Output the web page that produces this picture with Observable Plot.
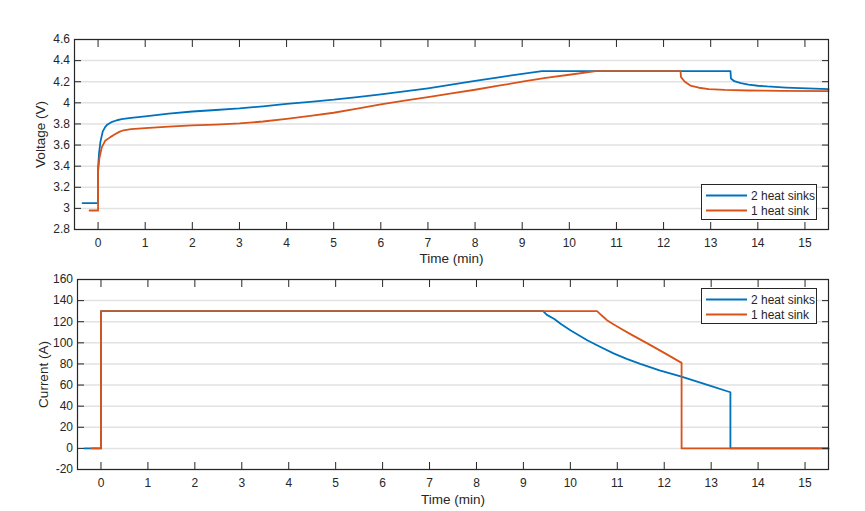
<!DOCTYPE html>
<html>
<head>
<meta charset="utf-8">
<script src="https://cdn.jsdelivr.net/npm/d3@7"></script>
<script src="https://cdn.jsdelivr.net/npm/@observablehq/plot@0.6"></script>
<style>
  html, body { margin: 0; padding: 0; background: #fff; overflow: hidden; }
  #wrap { position: relative; width: 865px; height: 511px; }
  #wrap svg { display: block; }
  .legend { position: absolute; background: #fff; border: 1px solid #262626; box-sizing: border-box; }
</style>
</head>
<body>
<div id="wrap"></div>
<script>
// ---- Series names / colours ----
const seriesNames = ["2 heat sinks", "1 heat sink"];
const seriesColors = ["#0072BD", "#D95319"];

// ---- Axis ticks ----
const timeTicks = [0,1,2,3,4,5,6,7,8,9,10,11,12,13,14,15];
const voltTicks = [2.8,3,3.2,3.4,3.6,3.8,4,4.2,4.4,4.6];
const voltTickLabels = ["2.8","3","3.2","3.4","3.6","3.8","4","4.2","4.4","4.6"];
const currTicks = [-20,0,20,40,60,80,100,120,140,160];
const currTickLabels = ["-20","0","20","40","60","80","100","120","140","160"];

// ---- Voltage, 2 heat sinks ----
const voltTime2 = [-0.33,0,0,0.02,0.05,0.1,0.15,0.2,0.3,0.4,0.5,0.7,1,1.5,2,2.5,3,3.5,4,4.5,5,5.5,6,6.5,7,7.5,8,8.5,9,9.42,13.42,13.43,13.5,13.64,13.8,14.0,14.2,14.6,14.9,15.2,15.5];
const voltVal2  = [3.05,3.05,3.38,3.52,3.63,3.73,3.77,3.795,3.82,3.835,3.845,3.858,3.872,3.897,3.918,3.932,3.947,3.967,3.99,4.01,4.03,4.055,4.08,4.108,4.138,4.172,4.207,4.242,4.275,4.3,4.3,4.23,4.205,4.186,4.172,4.162,4.155,4.145,4.14,4.135,4.13];

// ---- Voltage, 1 heat sink ----
const voltTime1 = [-0.18,0,0,0.03,0.08,0.15,0.26,0.35,0.45,0.54,0.7,1,1.5,2,2.5,3,3.5,4,4.5,5,5.5,6,6.5,7,7.5,8,8.5,9,9.5,10,10.56,12.36,12.37,12.45,12.57,12.75,12.96,13.3,13.8,14.5,15.5];
const voltVal1  = [2.98,2.98,3.35,3.48,3.58,3.64,3.675,3.70,3.725,3.74,3.75,3.76,3.775,3.786,3.794,3.805,3.823,3.848,3.876,3.906,3.945,3.985,4.02,4.054,4.089,4.124,4.162,4.20,4.236,4.266,4.3,4.3,4.243,4.2,4.164,4.143,4.13,4.122,4.117,4.113,4.11];

// ---- Current, 2 heat sinks ----
const currTime2 = [-0.35,0,0,9.42,9.5,9.65,9.8,10.0,10.36,10.6,10.92,11.2,11.49,11.9,12.35,12.92,13.41,13.41,15.5];
const currVal2  = [0,0,130,130,126.5,122.8,117.8,112,102.5,97,90,84.8,80.1,74,68.2,60.2,53.2,0,0];

// ---- Current, 1 heat sink ----
const currTime1 = [-0.2,0,0,10.57,10.63,10.7,10.78,10.9,11.07,11.3,11.64,12.0,12.37,12.37,15.5];
const currVal1  = [0,0,130,130,127.5,124.7,121.5,118,113.6,107.8,99.5,90.5,81,0,0];

function rows(times, vals, series) {
  return times.map((t, i) => ({t, v: vals[i], series}));
}
const voltData = [...rows(voltTime2, voltVal2, seriesNames[0]), ...rows(voltTime1, voltVal1, seriesNames[1])];
const currData = [...rows(currTime2, currVal2, seriesNames[0]), ...rows(currTime1, currVal1, seriesNames[1])];

const ink = "#262626";
const font = "'Liberation Sans', Arial, Helvetica, sans-serif";
const style = {fontFamily: font, fontSize: "12px", color: ink, background: "#fff", overflow: "visible"};

function panel({data, height, marginTop, marginBottom, marginLeft, yDomain, yTicks, yLabels, yLabel, xLabelOffset}) {
  const fmt = d => yLabels[yTicks.indexOf(d)];
  const svg = Plot.plot({
    width: 865, height,
    marginTop, marginBottom, marginLeft, marginRight: 37,
    style,
    x: {domain: [-0.5, 15.5]},
    y: {domain: yDomain},
    color: {domain: seriesNames, range: seriesColors},
    marks: [
      Plot.gridY(yTicks, {stroke: "#e2e2e2", strokeOpacity: 1, strokeWidth: 1.5}),
      Plot.line(data, {x: "t", y: "v", stroke: "series", z: "series", strokeWidth: 1.8}),
      Plot.frame({stroke: ink, strokeWidth: 1.2}),
      Plot.axisX(timeTicks, {anchor: "bottom", tickSize: -7, tickPadding: 16, tickFormat: d => String(d), label: null, fontSize: 12}),
      Plot.axisX({anchor: "bottom", ticks: [], tickSize: 0, label: "Time (min)", labelAnchor: "center", labelArrow: "none", labelOffset: xLabelOffset, fontSize: 13.5}),
      Plot.axisX(timeTicks, {anchor: "top", tickSize: -7, tickFormat: () => "", label: null}),
      Plot.axisY(yTicks, {anchor: "left", tickSize: -7, tickPadding: 11.5, tickFormat: fmt, label: null, fontSize: 12}),
      Plot.axisY({anchor: "left", ticks: [], tickSize: 0, label: yLabel, labelAnchor: "center", labelArrow: "none", labelOffset: 39, fontSize: 13.5}),
      Plot.axisY(yTicks, {anchor: "right", tickSize: -7, tickFormat: () => "", label: null})
    ]
  });
  return svg;
}

const wrap = document.getElementById("wrap");
wrap.appendChild(panel({data: voltData, height: 262, marginTop: 39, marginBottom: 33, marginLeft: 74, yDomain: [2.8, 4.6], yTicks: voltTicks, yLabels: voltTickLabels, yLabel: "Voltage (V)", xLabelOffset: 33}));
wrap.appendChild(panel({data: currData, height: 249, marginTop: 17, marginBottom: 42, marginLeft: 77, yDomain: [-20, 160], yTicks: currTicks, yLabels: currTickLabels, yLabel: "Current (A)", xLabelOffset: 34}));

function legend(left, top) {
  const w = 116, h = 36;
  const div = document.createElement("div");
  div.className = "legend";
  Object.assign(div.style, {left: left + "px", top: top + "px", width: w + "px", height: h + "px"});
  const svg = d3.create("svg").attr("width", w - 2).attr("height", h - 2)
    .style("font-family", font).style("font-size", "12px");
  seriesNames.forEach((name, i) => {
    const y = 10.5 + i * 15;
    svg.append("line").attr("x1", 4).attr("x2", 45).attr("y1", y).attr("y2", y)
      .attr("stroke", seriesColors[i]).attr("stroke-width", 1.8);
    svg.append("text").attr("x", 49).attr("y", y).attr("dy", "0.35em").attr("fill", ink).text(name);
  });
  div.appendChild(svg.node());
  wrap.appendChild(div);
}
legend(701, 184);
legend(701, 288);
</script>
</body>
</html>
